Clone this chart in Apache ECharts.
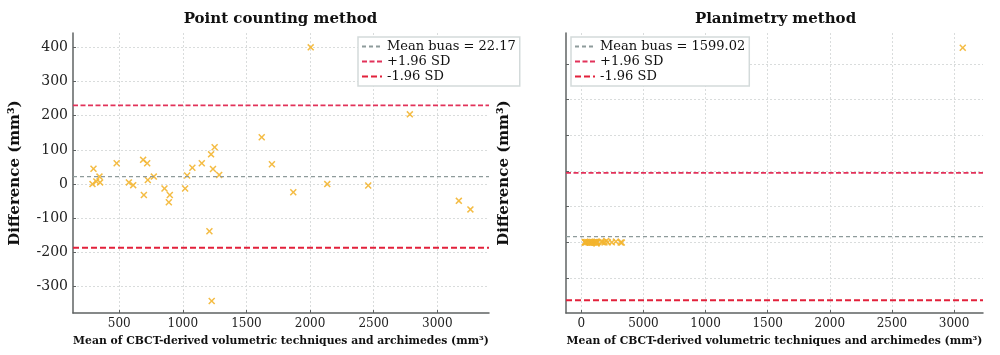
<!DOCTYPE html>
<html>
<head>
<meta charset="utf-8">
<script src="https://cdn.jsdelivr.net/npm/echarts@6/dist/echarts.min.js"></script>
<style>html,body{margin:0;padding:0;background:#fff}#c{width:1000px;height:355px}</style>
</head>
<body>
<div id="c"></div>
<script>
// ---- data ----
const pointMeanX = [290, 298, 320, 345, 350, 480, 576, 610, 688, 694, 720, 725, 772, 856, 890, 898,
  1018, 1034, 1075, 1149, 1209, 1222, 1227, 1237, 1250, 1286, 1620, 1700, 1868, 2005, 2135, 2457, 2784, 3169, 3260];
const pointDiff = [0, 45, 8, 22, 5, 61, 5, -3, 71, -32, 61, 12, 22, -13, -53, -32,
  -13, 25, 48, 61, -138, 87, -342, 44, 108, 27, 137, 58, -24, 400, 0, -4, 204, -49, -74];
const planMeanX = [290, 298, 320, 345, 350, 480, 576, 610, 688, 694, 720, 725, 772, 856, 890, 898,
  1018, 1034, 1075, 1149, 1209, 1222, 1227, 1237, 1250, 1286, 1620, 1700, 1868, 2005, 2135, 2457, 2784, 3169, 3260, 30700];
const planDiff = [0, 45, 8, 22, 5, 61, 5, -3, 71, -32, 61, 12, 22, -13, -53, -32,
  -13, 25, 48, 61, -138, 87, -342, 44, 108, 27, 137, 58, -24, 400, 0, -4, 204, -49, -74, 54500];
const pointLimits = [22.17, 230.5, -186.2];     // mean, +1.96 SD, -1.96 SD
const planLimits = [1599.02, 19440, -16250];
const pointLegend = ['Mean buas = 22.17', '+1.96 SD', '-1.96 SD'];
const planLegend = ['Mean buas = 1599.02', '+1.96 SD', '-1.96 SD'];
const titles = ['Point counting method', 'Planimetry method'];
const xName = 'Mean of CBCT-derived volumetric techniques and archimedes (mm³)';
const yName = 'Difference (mm³)';
const pointXTicks = [500, 1000, 1500, 2000, 2500, 3000];
const pointYTicks = [-300, -200, -100, 0, 100, 200, 300, 400];
const planXTicks = [0, 5000, 10000, 15000, 20000, 25000, 30000];
const planXTickLabels = ['0', '5000', '1000', '1500', '2000', '2500', '3000'];
const planYTicks = [-10000, 0, 10000, 20000, 30000, 40000, 50000];
const pointXRange = [137, 3406];
const pointYRange = [-377, 442];
const planXRange = [-1230, 32330];
const planYRange = [-19800, 58630];

// ---- styles ----
const SERIF = 'DejaVu Serif';
const AXIS_COLOR = '#5f6363';
const GRID_COLOR = '#d9dcdc';
const MARK_COLOR = '#f3b530';
const lineColors = ['#8e9b9b', '#e2325a', '#e2213b'];
const lineWidths = [1.3, 1.8, 2];
const lineDash = [[4, 3], [5, 2.5], [6, 3]];
const xSymbol = 'path://M0,1.5L1.5,0L5,3.5L8.5,0L10,1.5L6.5,5L10,8.5L8.5,10L5,6.5L1.5,10L0,8.5L3.5,5Z';

function xAxisCfg(gi, range, ticks, fmt) {
  return {
    type: 'value', gridIndex: gi, min: range[0], max: range[1],
    name: xName, nameLocation: 'middle', nameGap: 23,
    nameTextStyle: { fontFamily: SERIF, fontWeight: 'bold', fontSize: 10.8, color: '#111' },
    axisLine: { show: true, onZero: false, lineStyle: { color: AXIS_COLOR, width: 1.5 } },
    axisTick: { show: true, inside: true, length: 3, customValues: ticks, lineStyle: { color: AXIS_COLOR } },
    axisLabel: { customValues: ticks, margin: 5, fontFamily: SERIF, fontSize: 12, color: '#222', formatter: fmt },
    splitLine: { show: true, lineStyle: { color: GRID_COLOR, type: [2, 2], width: 1 } }
  };
}
function yAxisCfg(gi, range, ticks, showLabels, gap) {
  return {
    type: 'value', gridIndex: gi, min: range[0], max: range[1],
    name: yName, nameLocation: 'middle', nameGap: gap,
    nameTextStyle: { fontFamily: SERIF, fontWeight: 'bold', fontSize: 15, color: '#111' },
    axisLine: { show: true, onZero: false, lineStyle: { color: AXIS_COLOR, width: 1.5 } },
    axisTick: { show: true, inside: true, length: 3, customValues: ticks, lineStyle: { color: AXIS_COLOR } },
    axisLabel: { show: showLabels, customValues: ticks, margin: 5, fontFamily: SERIF, fontSize: 14, color: '#222', formatter: v => String(v) },
    splitLine: { show: true, lineStyle: { color: GRID_COLOR, type: [2, 2], width: 1 } }
  };
}
function limitSeries(gi, xr, limits, names) {
  return limits.map((v, i) => ({
    type: 'line', name: names[i], xAxisIndex: gi, yAxisIndex: gi,
    data: [[xr[0], v], [xr[1], v]], symbol: 'none', silent: true, z: 3,
    lineStyle: { color: lineColors[i], width: lineWidths[i], type: lineDash[i] },
    itemStyle: { color: lineColors[i] }
  }));
}
function legendCfg(left, names) {
  return {
    left: left, top: 37, orient: 'vertical', data: names,
    backgroundColor: '#fff', borderColor: '#d3dada', borderWidth: 1.5, borderRadius: 0,
    padding: [3, 4, 3, 3], itemGap: 2, itemWidth: 20, itemHeight: 10,
    itemStyle: { opacity: 0 },
    textStyle: { fontFamily: SERIF, fontSize: 13, color: '#111' }
  };
}

const chart = echarts.init(document.getElementById('c'), null, { renderer: 'canvas' });
chart.setOption({
  animation: false,
  backgroundColor: '#fff',
  graphic: [
    { type: 'text', x: 280.5, y: 19, style: { text: titles[0], align: 'center', verticalAlign: 'middle', fontFamily: SERIF, fontWeight: 'bold', fontSize: 15, fill: '#111' } },
    { type: 'text', x: 775.5, y: 19, style: { text: titles[1], align: 'center', verticalAlign: 'middle', fontFamily: SERIF, fontWeight: 'bold', fontSize: 15, fill: '#111' } }
  ],
  grid: [
    { left: 73, top: 33, width: 416, height: 280 },
    { left: 566, top: 33, width: 417, height: 280 }
  ],
  xAxis: [
    xAxisCfg(0, pointXRange, pointXTicks, v => String(v)),
    xAxisCfg(1, planXRange, planXTicks, v => { const i = planXTicks.indexOf(v); return i >= 0 ? planXTickLabels[i] : ''; })
  ],
  yAxis: [
    yAxisCfg(0, pointYRange, pointYTicks, true, 50),
    yAxisCfg(1, planYRange, planYTicks, false, 54)
  ],
  legend: [legendCfg(358, pointLegend), legendCfg(571, planLegend)],
  series: [
    {
      type: 'scatter', name: 'pc', xAxisIndex: 0, yAxisIndex: 0,
      data: pointMeanX.map((x, i) => [x, pointDiff[i]]),
      symbol: xSymbol, symbolSize: 7, itemStyle: { color: MARK_COLOR, opacity: 0.9 }, z: 2
    },
    {
      type: 'scatter', name: 'pl', xAxisIndex: 1, yAxisIndex: 1,
      data: planMeanX.map((x, i) => [x, planDiff[i]]),
      symbol: xSymbol, symbolSize: 7, itemStyle: { color: MARK_COLOR, opacity: 0.9 }, z: 2
    },
    ...limitSeries(0, pointXRange, pointLimits, pointLegend),
    ...limitSeries(1, planXRange, planLimits, planLegend)
  ]
});
</script>
</body>
</html>
